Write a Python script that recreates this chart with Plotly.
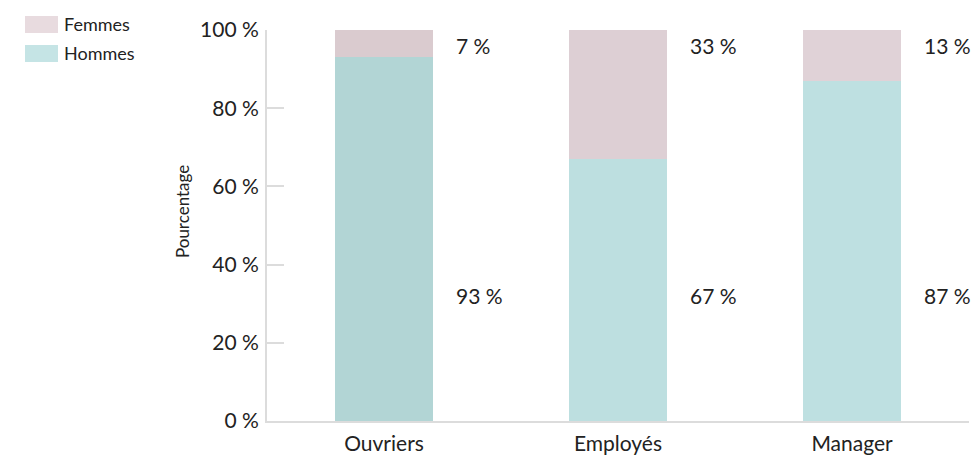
import plotly.graph_objects as go

# Data
categories = ["Ouvriers", "Employés", "Manager"]
hommes = [93, 67, 87]
femmes = [7, 33, 13]
y_ticks = [0, 20, 40, 60, 80, 100]
y_tick_labels = [f"{t} %" for t in y_ticks]

FONT = "Lato, 'Noto Sans', sans-serif"
x_pos = list(range(len(categories)))

# the page adds an 8px body margin; keep the figure inside the window
OFF = 8
W, H = 979 - 2 * OFF, 463 - 2 * OFF
PL, PR, PT, PB = 267, 969, 30, 421   # plot box in window pixels


def px_x(px):
    return (px - PL) / (PR - PL)


def px_y(px):
    return (PB - px) / (PB - PT)


fig = go.Figure()
fig.add_trace(go.Bar(
    x=x_pos, y=hommes, name="Hommes", width=0.42,
    marker=dict(color=["#b2d5d5", "#bddfe0", "#bee0e1"], line=dict(width=0)),
    hoverinfo="y+name",
))
fig.add_trace(go.Bar(
    x=x_pos, y=femmes, name="Femmes", width=0.42,
    marker=dict(color=["#dacbcf", "#ddcfd4", "#e0d2d7"], line=dict(width=0)),
    hoverinfo="y+name",
))

# value labels to the right of each bar
for i in x_pos:
    fig.add_annotation(x=i + 0.3, y=96, xref="x", yref="y", text=f"{femmes[i]} %",
                       showarrow=False, xanchor="left", yanchor="middle",
                       font=dict(size=21, color="#222"))
    fig.add_annotation(x=i + 0.3, y=32, xref="x", yref="y", text=f"{hommes[i]} %",
                       showarrow=False, xanchor="left", yanchor="middle",
                       font=dict(size=21, color="#222"))

# hand-made legend (wide swatches)
legend_items = [("Femmes", "#e8dbdf"), ("Hommes", "#c5e4e5")]
for k, (label, col) in enumerate(legend_items):
    y0 = 16 + k * 29
    fig.add_shape(type="rect", xref="paper", yref="paper",
                  x0=px_x(25), x1=px_x(58), y0=px_y(y0), y1=px_y(y0 + 17),
                  fillcolor=col, line=dict(width=0), layer="above")
    fig.add_annotation(xref="paper", yref="paper", x=px_x(62), y=px_y(y0 + 8.5),
                       text=label, showarrow=False, xanchor="left", yanchor="middle",
                       font=dict(size=18, color="#222"))

# y axis title
fig.add_annotation(xref="paper", yref="paper", x=px_x(182), y=px_y(212),
                   text="Pourcentage", textangle=-90, showarrow=False,
                   xanchor="center", yanchor="middle",
                   font=dict(size=17, color="#222"))

fig.update_layout(
    width=W, height=H,
    barmode="stack",
    showlegend=False,
    plot_bgcolor="white", paper_bgcolor="white",
    margin=dict(l=PL - OFF, r=W - (PR - OFF), t=PT - OFF, b=H - (PB - OFF),
                autoexpand=False),
    font=dict(family=FONT, size=20, color="#222"),
)
fig.update_xaxes(
    range=[-0.5, 2.5], tickvals=x_pos, ticktext=categories,
    showline=True, linecolor="#dcdcdc", linewidth=2, automargin=False,
    showgrid=False, ticks="", tickfont=dict(size=21), ticklabelstandoff=3,
    zeroline=False,
)
fig.update_yaxes(
    range=[0, 100], tickvals=y_ticks, ticktext=y_tick_labels,
    showline=True, linecolor="#dcdcdc", linewidth=2, automargin=False,
    showgrid=False, ticks="inside", ticklen=17, tickcolor="#dcdcdc", tickwidth=2,
    tickfont=dict(size=21), zeroline=False, ticklabelstandoff=2,
)

fig.write_html("out.html")
